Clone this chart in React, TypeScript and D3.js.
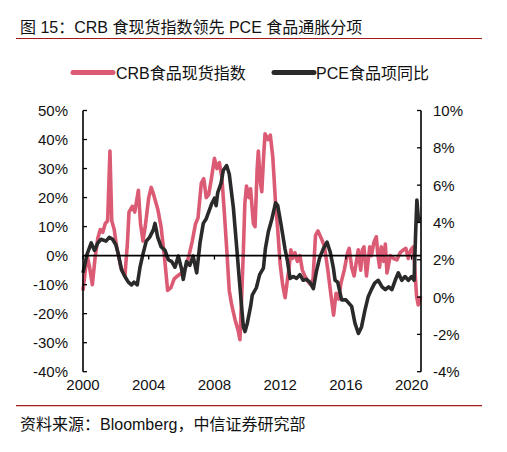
import React from "react";
import * as d3 from "d3";

const title = "图 15：CRB 食现货指数领先 PCE 食品通胀分项";
const source = "资料来源：Bloomberg，中信证券研究部";
const seriesNames = ["CRB食品现货指数", "PCE食品项同比"];
const leftTicks = [-40, -30, -20, -10, 0, 10, 20, 30, 40, 50];
const rightTicks = [-4, -2, 0, 2, 4, 6, 8, 10];
const xTicks = [2000, 2004, 2008, 2012, 2016, 2020];

const crbYears = [
  2000.0, 2000.25, 2000.4, 2000.57, 2000.73, 2000.9, 2001.05, 2001.2, 2001.35, 2001.5, 2001.64, 2001.75, 2001.9,
  2002.05, 2002.3, 2002.55, 2002.7, 2002.8, 2003.0, 2003.15, 2003.37, 2003.5, 2003.65, 2003.8, 2004.0, 2004.15,
  2004.3, 2004.55, 2004.75, 2004.95, 2005.15, 2005.35, 2005.55, 2005.75, 2006.0, 2006.25, 2006.45, 2006.65,
  2006.85, 2007.0, 2007.2, 2007.35, 2007.5, 2007.65, 2007.8, 2008.0, 2008.15, 2008.3, 2008.45, 2008.6, 2008.75,
  2008.9, 2009.05, 2009.25, 2009.45, 2009.55, 2009.65, 2009.75, 2009.85, 2009.95, 2010.1, 2010.2, 2010.37,
  2010.47, 2010.6, 2010.67, 2010.8, 2010.88, 2011.0, 2011.08, 2011.25, 2011.4, 2011.55, 2011.72, 2011.85,
  2012.0, 2012.15, 2012.3, 2012.45, 2012.55, 2012.65, 2012.75, 2012.9, 2013.05, 2013.2, 2013.35, 2013.5,
  2013.7, 2013.85, 2014.0, 2014.15, 2014.3, 2014.5, 2014.7, 2014.9, 2015.1, 2015.25, 2015.4, 2015.55, 2015.7,
  2015.9, 2016.1, 2016.2, 2016.35, 2016.5, 2016.75, 2016.9, 2017.0, 2017.1, 2017.25, 2017.45, 2017.55, 2017.7,
  2017.85, 2017.95, 2018.05, 2018.15, 2018.3, 2018.4, 2018.5, 2018.7, 2018.9, 2019.1, 2019.3, 2019.5, 2019.65,
  2019.8, 2019.95, 2020.1, 2020.2, 2020.3, 2020.4, 2020.55,
];
const crbValues = [
  -12, 0, -4, -10, -1, 6, 9, 8, 11, 12, 36, 12, 9,
  3, -4, -7, 4, 15, 17, 15, 22.5, 11, 5, 10.5, 20, 23.5,
  21, 16, 10, 0, -12, -11, -8, -7, -6, -4, 0, 5,
  11, 13, 25, 26.5, 20, 21, 26, 33.5, 30, 32, 27, 15, 2,
  -12, -17, -22, -26, -29, -15, 0, 18, 24, 20, 23, 11,
  10, 30, 36, 25, 22, 35, 42, 40, 41.5, 34, 18, 9,
  -3, -10, -14.5, -8, -4, 2, -1, 1, -2, 0, -5, -7,
  -9, -10, -8, 7, 8.5, 6, 3, -5, -14, -20.5, -13, -15, -9.5,
  -5, 1, 2.5, -4, -7, 2, -5, 2, 3, -7, 3, 0, 4.5,
  6.5, 0, -4, 3, -2, 4, -6, 0, -1, -1.5, 1, 2, 2.5,
  -1, 2, 3, -5, -14, -17, -14,
];

const pceYears = [
  2000.0, 2000.25, 2000.5, 2000.7, 2000.9, 2001.1, 2001.4, 2001.6, 2001.8, 2002.0, 2002.15, 2002.35, 2002.55,
  2002.76, 2002.95, 2003.1, 2003.3, 2003.47, 2003.65, 2003.85, 2004.05, 2004.28, 2004.38, 2004.55, 2004.75,
  2004.99, 2005.2, 2005.4, 2005.6, 2005.8, 2006.0, 2006.1, 2006.3, 2006.5, 2006.7, 2006.92, 2007.12, 2007.32,
  2007.5, 2007.83, 2008.0, 2008.1, 2008.2, 2008.4, 2008.54, 2008.74, 2008.9, 2009.15, 2009.35, 2009.55, 2009.76,
  2009.86, 2010.0, 2010.2, 2010.3, 2010.55, 2010.75, 2010.98, 2011.1, 2011.28, 2011.5, 2011.72, 2011.85, 2012.05,
  2012.29, 2012.45, 2012.6, 2012.8, 2013.0, 2013.2, 2013.4, 2013.6, 2013.8, 2014.02, 2014.2, 2014.4, 2014.63,
  2014.85, 2015.05, 2015.24, 2015.34, 2015.5, 2015.74, 2016.0, 2016.35, 2016.55, 2016.76, 2016.95, 2017.16,
  2017.35, 2017.55, 2017.75, 2017.97, 2018.2, 2018.4, 2018.6, 2018.8, 2019.0, 2019.19, 2019.4, 2019.6, 2019.8,
  2020.0, 2020.15, 2020.25, 2020.32, 2020.42, 2020.5,
];
const pceValues = [
  1.3, 2.3, 2.9, 2.5, 2.9, 3.1, 3.0, 3.2, 3.1, 2.8, 2.3, 1.45, 1.1,
  0.8, 0.65, 0.8, 0.65, 1.6, 2.3, 3.0, 3.2, 3.6, 3.95, 3.2, 2.7,
  2.5, 2.0, 1.9, 1.6, 2.2, 1.5, 0.95, 1.9, 1.7, 2.2, 1.3, 2.9, 3.95,
  4.2, 5.0, 5.3, 4.9, 5.6, 6.1, 6.8, 7.05, 6.6, 4.8, 2.7, 0.55, -1.6,
  -1.85, -1.4, -0.5, 0.1, 0.5, 1.2, 1.55, 2.6, 3.5, 4.2, 5.05, 4.9, 3.9,
  2.6, 1.9, 1.0, 1.1, 1.0, 1.2, 0.9, 0.95, 0.8, 0.45, 1.35, 2.1, 2.6,
  2.95, 2.4, 1.55, 0.9, 0.8, -0.15, -0.15, -0.5, -1.4, -1.95, -1.6, -0.7,
  0.0, 0.4, 0.75, 0.9, 0.55, 0.4, 0.55, 0.4, 0.9, 1.3, 0.9, 1.1, 0.9,
  1.1, 0.9, 3.6, 5.2, 4.1, 4.3,
];

const W = 507;
const H = 452;
const left = 83;
const right = 421;
const top = 110.5;
const bottom = 371.7;

const pink = "#dc5b74";
const dark = "#2a2a2a";
const rule = "#a31a1a";
const latin = "'Liberation Sans', Arial, 'Noto Sans CJK SC', sans-serif";
const cjk = "'Liberation Sans', 'Noto Sans CJK SC', sans-serif";

export default function App() {
  const x = d3.scaleLinear().domain([2000, 2020.57]).range([left, right]);
  const yL = d3.scaleLinear().domain([-40, 50]).range([bottom, top]);
  const yR = d3.scaleLinear().domain([-4, 10]).range([bottom, top]);

  const crbLine = d3
    .line<number>()
    .x((_, i) => x(crbYears[i]))
    .y((d) => yL(d));
  const pceLine = d3
    .line<number>()
    .x((_, i) => x(pceYears[i]))
    .y((d) => yR(d));

  const zeroY = yL(0);

  return (
    <svg width={W} height={H} style={{ position: "absolute", left: 0, top: 0, background: "#fff" }}>
      <rect x={0} y={0} width={W} height={H} fill="#fff" />
      <text x={20} y={33} fontSize={16} fontFamily={cjk} fill="#111">
        {title}
      </text>
      <line x1={16} x2={482} y1={38.5} y2={38.5} stroke={rule} strokeWidth={1.2} />

      {/* legend */}
      <line x1={73} x2={113} y1={72.5} y2={72.5} stroke={pink} strokeWidth={5} strokeLinecap="round" />
      <text x={116} y={79} fontSize={16} fontFamily={cjk} fill="#111">
        {seriesNames[0]}
      </text>
      <line x1={274} x2={314} y1={72.5} y2={72.5} stroke={dark} strokeWidth={5} strokeLinecap="round" />
      <text x={316} y={79} fontSize={16} fontFamily={cjk} fill="#111">
        {seriesNames[1]}
      </text>

      {/* series */}
      <path d={crbLine(crbValues) || ""} fill="none" stroke={pink} strokeWidth={3.6} strokeLinejoin="round" />
      <path d={pceLine(pceValues) || ""} fill="none" stroke={dark} strokeWidth={3.6} strokeLinejoin="round" />

      {/* zero line axis */}
      <line x1={left} x2={right} y1={zeroY} y2={zeroY} stroke="#000" strokeWidth={1.6} />
      {xTicks.map((t) => (
        <g key={t}>
          <line x1={x(t)} x2={x(t)} y1={zeroY} y2={zeroY + 4} stroke="#000" strokeWidth={1.3} />
          <text x={x(t)} y={384} fontSize={15} fontFamily={latin} textAnchor="middle" dominantBaseline="central" fill="#111">
            {t}
          </text>
        </g>
      ))}

      {/* left axis */}
      <line x1={left} x2={left} y1={top} y2={bottom} stroke="#000" strokeWidth={1.6} />
      {leftTicks.map((t) => (
        <g key={t}>
          <line x1={left} x2={left + 4} y1={yL(t)} y2={yL(t)} stroke="#000" strokeWidth={1.3} />
          <text x={68} y={yL(t)} fontSize={15} fontFamily={latin} textAnchor="end" dominantBaseline="central" fill="#111">
            {t}%
          </text>
        </g>
      ))}

      {/* right axis */}
      <line x1={right} x2={right} y1={top} y2={bottom} stroke="#000" strokeWidth={1.6} />
      {rightTicks.map((t) => (
        <g key={t}>
          <line x1={right - 4} x2={right} y1={yR(t)} y2={yR(t)} stroke="#000" strokeWidth={1.3} />
          <text x={433} y={yR(t)} fontSize={15} fontFamily={latin} textAnchor="start" dominantBaseline="central" fill="#111">
            {t}%
          </text>
        </g>
      ))}

      <line x1={16} x2={482} y1={405.7} y2={405.7} stroke={rule} strokeWidth={1.2} />
      <text x={20} y={430} fontSize={16} fontFamily={cjk} fill="#111">
        {source}
      </text>
    </svg>
  );
}
